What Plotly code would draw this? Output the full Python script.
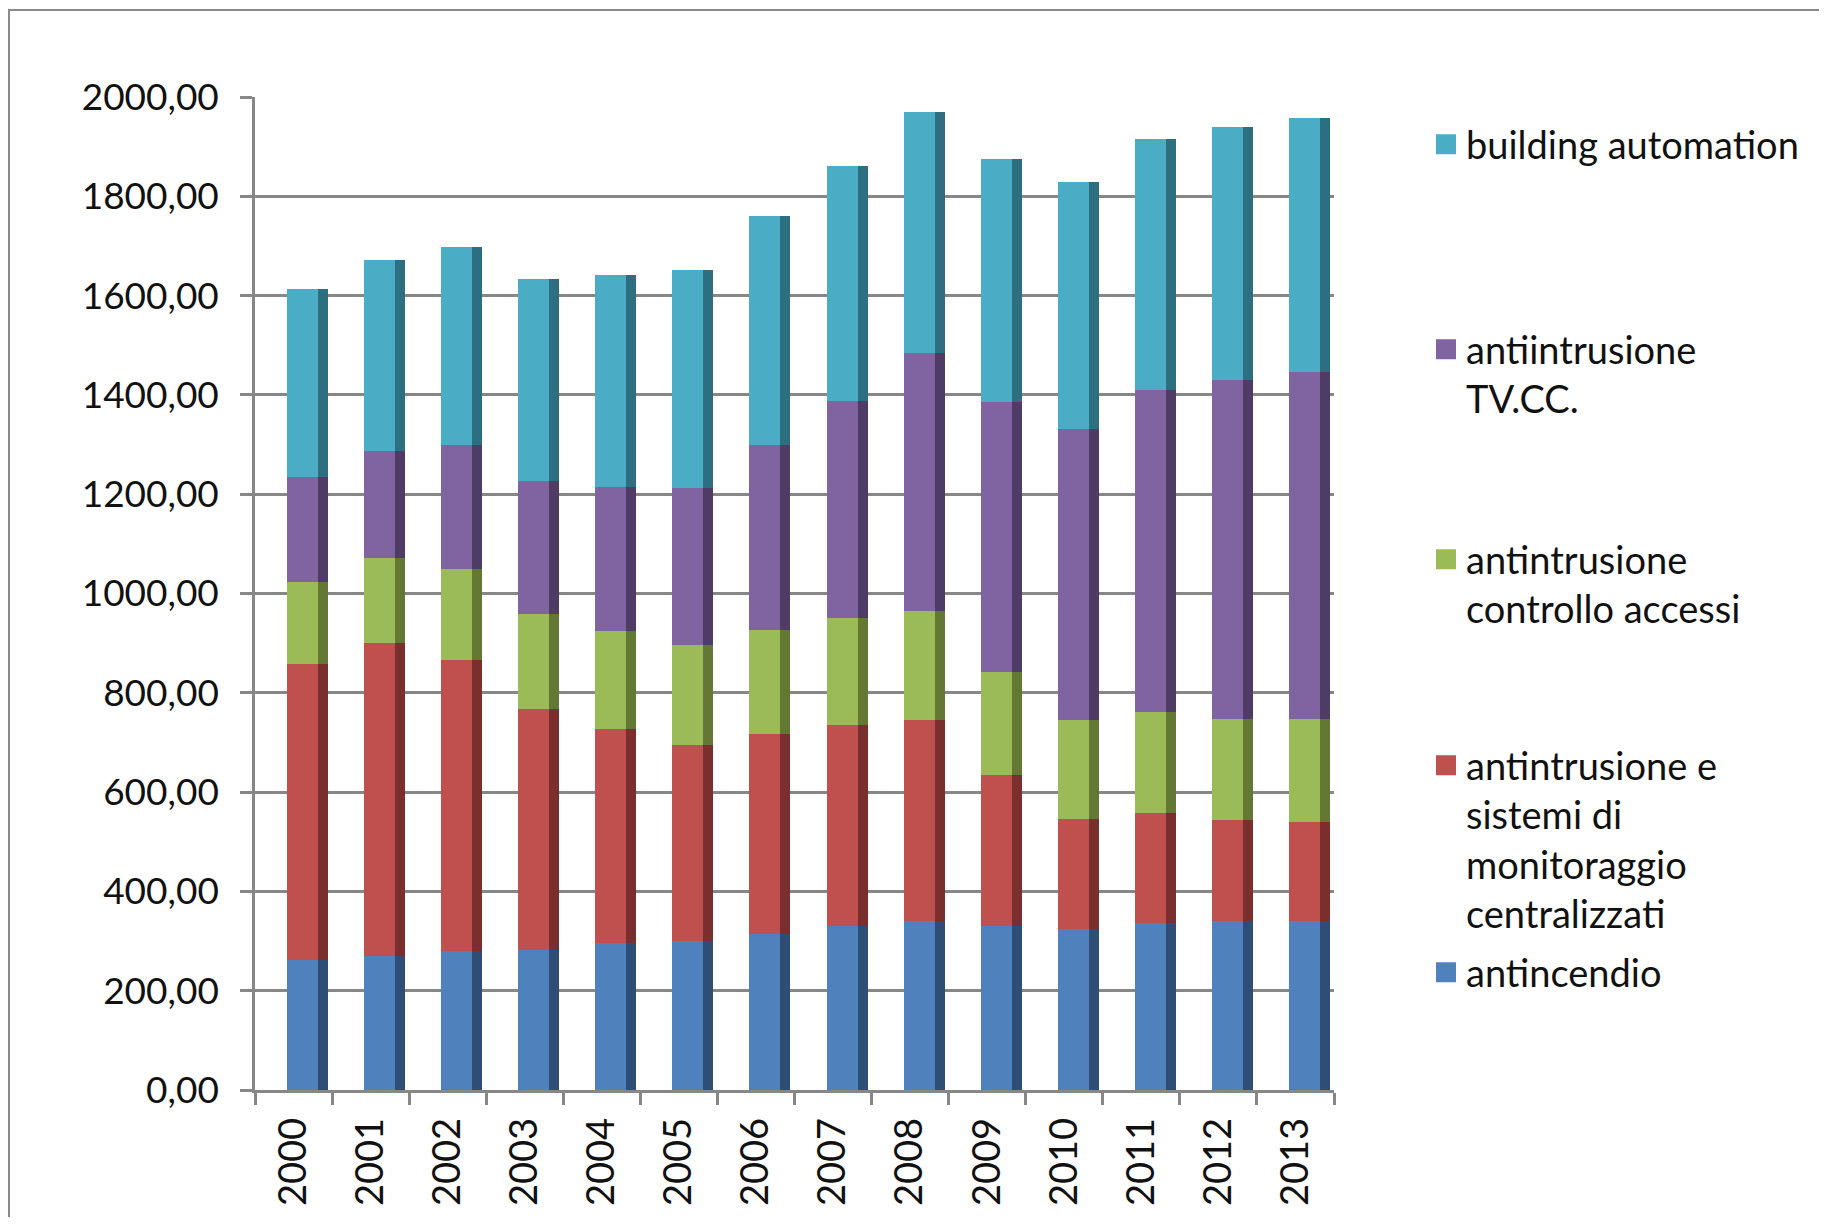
import numpy as np
import plotly.graph_objects as go

years = ["2000", "2001", "2002", "2003", "2004", "2005", "2006",
         "2007", "2008", "2009", "2010", "2011", "2012", "2013"]

antincendio = [262, 270, 280, 282, 296, 301, 315, 330, 340, 331, 324, 336, 340, 340]
antintrusione_sistemi = [597, 630, 587, 485, 432, 394, 402, 405, 406, 303, 221, 221, 204, 200]
controllo_accessi = [165, 172, 182, 191, 197, 201, 210, 215, 219, 207, 200, 205, 204, 207]
tvcc = [210, 216, 251, 269, 289, 316, 373, 437, 519, 545, 586, 648, 682, 699]
building_automation = [379, 383, 398, 406, 427, 440, 461, 474, 486, 490, 498, 505, 510, 512]

series_names = [
    "antincendio",
    "antintrusione e<br>sistemi di<br>monitoraggio<br>centralizzati",
    "antintrusione<br>controllo accessi",
    "antiintrusione<br>TV.CC.",
    "building automation",
]
series_values = [antincendio, antintrusione_sistemi, controllo_accessi, tvcc, building_automation]
front_colors = ["#4F81BD", "#C0504D", "#9BBB59", "#8064A2", "#4BACC6"]
side_colors = ["#2F4E75", "#7A2E2D", "#627833", "#4E3C66", "#2D6E80"]

# layout geometry (pixels, figure coordinates; page adds an 8px body margin)
W, H = 1811, 1209
L, T = 247, 89
R = W - 1326
B = H - 1082
plot_w = W - L - R
plot_h = H - T - B
cat_px = plot_w / len(years)

FONT = "Lato"
TXT = "#111111"
GRID = "#878787"

fig = go.Figure()

cum = np.zeros(len(years))
front_off = (279 - (L + cat_px / 2)) / cat_px
front_w = 31 / cat_px
side_w = 10 / cat_px
for vals, fc, sc in zip(series_values, front_colors, side_colors):
    v = np.array(vals, dtype=float)
    fig.add_trace(go.Bar(x=years, y=v, base=cum.copy(), offset=front_off, width=front_w,
                         marker=dict(color=fc, line=dict(width=0)), showlegend=False,
                         hoverinfo="x+y"))
    fig.add_trace(go.Bar(x=years, y=v, base=cum.copy(), offset=front_off + front_w, width=side_w,
                         marker=dict(color=sc, line=dict(width=0)), showlegend=False,
                         hoverinfo="skip"))
    cum = cum + v

# legend entries (one legend per entry, to reproduce the spread-out layout)
legend_centers = {4: 147, 3: 352, 2: 562, 1: 768, 0: 975}   # page px of first text line
legend_keys = {4: "legend", 3: "legend2", 2: "legend3", 1: "legend4", 0: "legend5"}
legend_x = (1418 - L) / plot_w
layout_legends = {}
for i in [4, 3, 2, 1, 0]:
    key = legend_keys[i]
    fig.add_trace(go.Scatter(x=[None], y=[None], mode="markers", name=series_names[i],
                             marker=dict(symbol="square", size=16, color=front_colors[i],
                                         line=dict(color=front_colors[i], width=4)),
                             legend=key, showlegend=True, hoverinfo="skip"))
    top_px = legend_centers[i] - 42
    layout_legends[key] = dict(
        x=legend_x, y=(H - B - top_px) / plot_h, xanchor="left", yanchor="top",
        bgcolor="rgba(0,0,0,0)", font=dict(family=FONT, size=38, color=TXT),
        valign="top", itemwidth=30, tracegroupgap=0,
    )

fig.update_layout(
    width=W, height=H,
    margin=dict(l=L, r=R, t=T, b=B, pad=0),
    paper_bgcolor="white", plot_bgcolor="white",
    barmode="overlay", bargap=0,
    separators=",.",
    font=dict(family=FONT, size=37, color=TXT),
    **layout_legends,
    xaxis=dict(
        type="category", range=[-0.5, len(years) - 0.5],
        showline=True, linecolor=GRID, linewidth=2.5,
        ticks="outside", tickson="boundaries", ticklen=12, tickwidth=2.5, tickcolor=GRID,
        tickangle=-90, ticklabelstandoff=10,
        tickfont=dict(family=FONT, size=38, color=TXT),
        showgrid=False, zeroline=False,
    ),
    yaxis=dict(
        range=[0, 2000], dtick=200, tick0=0, tickformat=".2f",
        showline=True, linecolor=GRID, linewidth=2.5,
        ticks="outside", ticklen=12, tickwidth=2.5, tickcolor=GRID,
        ticklabelstandoff=14,
        tickfont=dict(family=FONT, size=37, color=TXT),
        showgrid=True, gridcolor=GRID, gridwidth=2.5, zeroline=False,
    ),
    shapes=[dict(type="rect", xref="paper", yref="paper",
                 x0=(1 - L) / plot_w, x1=1.6, y0=-0.3, y1=(H - B - 2) / plot_h,
                 line=dict(color="#8a8a8a", width=2), fillcolor="rgba(0,0,0,0)", layer="below")],
)

fig.write_html("out.html")
